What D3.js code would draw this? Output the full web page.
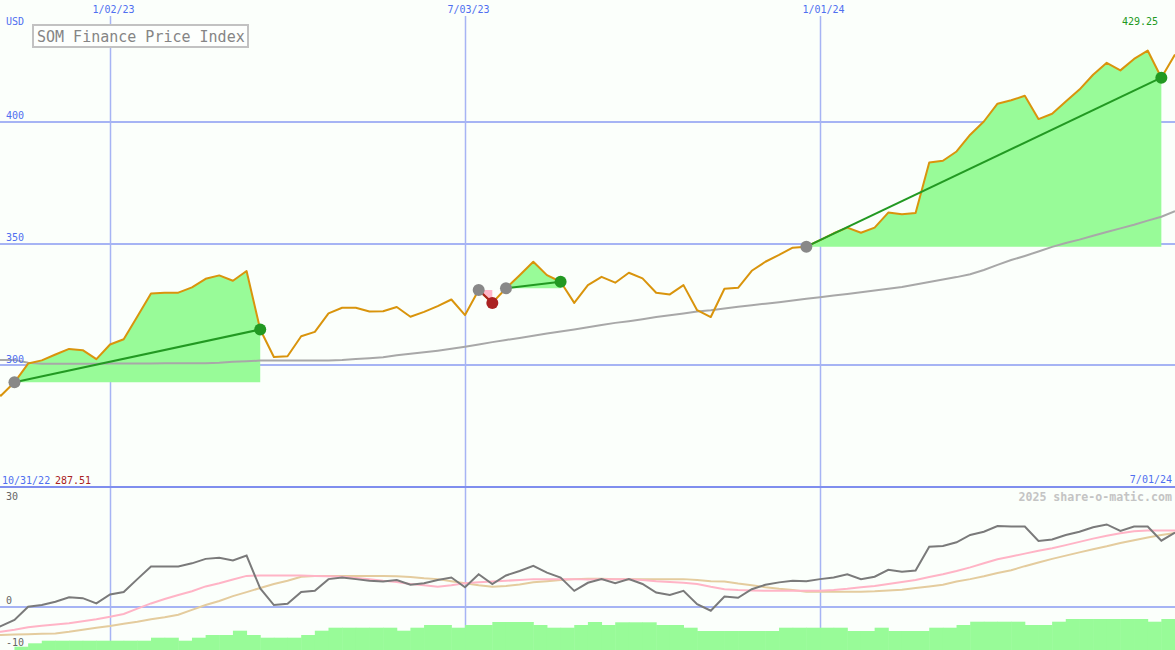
<!DOCTYPE html>
<html><head><meta charset="utf-8">
<script src="https://cdn.jsdelivr.net/npm/d3@7"></script>
<style>
body{margin:0;background:#fbfffb}
svg{display:block}
text{font-family:"DejaVu Sans Mono",monospace}
</style>
</head><body>
<svg id="c" width="1175" height="650"></svg>
<script>
// ---------- DATA ----------
const firstDate = "2022-10-31";           // weekly closes, Mondays
const price = [289.4, 287.51, 293.0, 300.7, 302.0, 304.4, 306.7, 306.2, 302.5, 308.5, 310.7, 320.0,
  329.5, 329.8, 329.8, 332.0, 335.5, 336.9, 334.7, 338.7, 314.7, 303.4, 303.7, 311.9, 313.7, 321.3,
  323.6, 323.6, 322.1, 322.2, 323.9, 319.9, 321.9, 324.3, 327.0, 320.6, 330.9, 325.6, 331.6, 337.0,
  342.5, 337.0, 334.3, 325.6, 332.9, 336.3, 333.9, 338.0, 335.7, 329.8, 329.1, 332.9, 322.6, 319.8,
  331.4, 331.8, 338.8, 342.5, 345.3, 348.3, 348.7, 351.4, 354.2, 356.5, 354.4, 356.5, 362.7, 362.0,
  362.5, 383.3, 384.0, 387.8, 394.7, 400.1, 407.4, 408.8, 410.7, 401.1, 403.3, 408.3, 413.2, 419.3,
  424.2, 421.1, 425.8, 429.25, 418.1, 427.6];
const movingAvg = [301.6, 302.2, 302.2, 301.0, 300.6, 300.6, 300.6, 300.6, 300.6, 300.7, 300.7, 300.7,
  300.7, 300.8, 300.8, 300.8, 300.8, 301.0, 301.4, 301.6, 301.9, 301.9, 301.9, 301.9, 301.9, 302.0,
  302.2, 302.6, 302.9, 303.3, 304.1, 304.7, 305.3, 306.0, 306.8, 307.6, 308.5, 309.5, 310.4, 311.2,
  312.1, 313.0, 313.9, 314.7, 315.6, 316.5, 317.4, 318.1, 318.9, 319.8, 320.5, 321.3, 322.1, 322.6,
  323.3, 324.0, 324.6, 325.3, 325.9, 326.6, 327.3, 327.9, 328.6, 329.3, 330.0, 330.7, 331.4, 332.1,
  333.2, 334.2, 335.2, 336.2, 337.4, 339.1, 341.2, 343.2, 344.9, 346.7, 348.6, 350.2, 351.6, 353.2,
  354.7, 356.2, 357.7, 359.4, 361.0, 363.3];
const oscillator = [-6.0, -4.6, -3.1, 0.2, 0.6, 1.4, 2.5, 2.3, 1.0, 3.2, 3.8, 7.0, 10.1, 10.1, 10.1,
  10.9, 12.0, 12.3, 11.6, 12.8, 4.7, 0.6, 0.9, 3.8, 4.1, 7.0, 7.4, 7.0, 6.6, 6.4, 6.8, 5.6, 6.0, 6.8,
  7.4, 5.0, 8.2, 5.8, 7.9, 9.0, 10.3, 8.6, 7.4, 4.1, 6.1, 7.0, 6.0, 7.0, 5.8, 3.7, 3.1, 4.1, 0.8, -0.8,
  2.7, 2.4, 4.5, 5.6, 6.2, 6.6, 6.5, 7.0, 7.4, 8.2, 7.0, 7.6, 9.3, 8.8, 9.1, 15.0, 15.2, 16.1, 17.9,
  18.7, 20.1, 20.0, 20.0, 16.4, 16.8, 17.9, 18.7, 19.8, 20.5, 18.9, 20.0, 20.0, 16.5, 18.5];
const signalFast = [-6.3, -6.0, -5.5, -4.9, -4.5, -4.2, -3.9, -3.4, -2.9, -2.3, -1.6, -0.3, 1.0, 2.1,
  3.1, 4.0, 5.2, 6.0, 6.9, 7.8, 7.9, 7.9, 7.9, 7.9, 7.8, 7.7, 7.6, 7.3, 7.0, 6.6, 6.3, 5.8, 5.5, 5.1,
  5.5, 6.0, 6.2, 6.4, 6.6, 6.8, 7.0, 7.0, 7.0, 7.0, 6.9, 7.0, 7.0, 7.0, 6.8, 6.5, 6.3, 6.1, 5.8, 5.1,
  4.5, 4.3, 4.2, 4.1, 4.1, 4.1, 4.1, 4.1, 4.3, 4.6, 5.0, 5.3, 5.8, 6.3, 6.8, 7.5, 8.2, 9.0, 9.9, 10.9,
  11.9, 12.6, 13.3, 14.0, 14.6, 15.4, 16.2, 17.0, 17.7, 18.3, 18.8, 19.0, 19.0, 19.0];
const signalSlow = [-6.9, -6.8, -6.7, -6.6, -6.5, -6.4, -6.0, -5.5, -5.0, -4.6, -4.0, -3.5, -2.9, -2.4,
  -1.8, -0.6, 0.6, 1.6, 2.8, 3.8, 4.8, 5.8, 6.6, 7.6, 7.8, 7.8, 7.8, 7.8, 7.8, 7.8, 7.7, 7.5, 7.2, 7.0,
  6.5, 6.0, 5.5, 5.1, 5.3, 5.7, 6.2, 6.5, 6.8, 7.0, 7.1, 7.1, 7.0, 7.0, 7.0, 7.0, 7.0, 7.0, 6.8, 6.5,
  6.4, 5.9, 5.5, 5.0, 4.6, 4.3, 3.9, 3.9, 3.9, 3.9, 3.9, 4.0, 4.2, 4.4, 4.8, 5.2, 5.6, 6.4, 7.0, 7.7,
  8.5, 9.2, 10.2, 11.1, 12.0, 12.8, 13.6, 14.4, 15.1, 15.9, 16.6, 17.3, 17.9, 18.4];
const volume = [0, 0, 3.3, 6.7, 9.3, 9.3, 9.3, 9.3, 9.3, 9.3, 9.3, 9.3, 12.3, 12.3, 9.3, 12.3, 15, 15,
  19.3, 15, 12.3, 12.3, 12.3, 15, 19.3, 22.3, 22.3, 22.3, 22.3, 22.3, 19.3, 22.3, 25, 25, 22.3, 25, 25,
  28, 28, 28, 25, 22.3, 22.3, 25, 28, 25, 27.7, 27.7, 27.7, 25, 25, 22.3, 19, 19, 19, 19, 19, 19, 22.3,
  22.3, 22.3, 22.3, 22.3, 19, 19, 22.3, 19, 19, 19, 22.3, 22.3, 25, 28.3, 28.3, 28.3, 28.3, 25, 25,
  28.3, 31, 31, 31, 31, 31, 31, 28.3, 31, 31];
const tickDates = ["2023-01-02", "2023-07-03", "2024-01-01"];
const priceTicks = [300, 350, 400];
const segStart = ["2022-11-14", "2023-07-10", "2023-07-24", "2023-12-25"];
const segEnd   = ["2023-03-20", "2023-07-17", "2023-08-21", "2024-06-24"];
const title = "SOM Finance Price Index";
const currency = "USD";
const credit = "2025 share-o-matic.com";
const oscLabels = [30, 0, -10];

// ---------- SETUP ----------
const W = 1175, H = 650;
const parse = d3.utcParse("%Y-%m-%d");
const fmt = d3.utcFormat("%-m/%d/%y");
const t0 = parse(firstDate);
const dates = price.map((_, i) => d3.utcDay.offset(t0, 7 * i));
const x = d3.scaleUtc().domain([new Date(Date.UTC(2022, 10, 6, 14)), dates[dates.length - 1]]).range([0, W]);
const y = d3.scaleLinear().domain([250, 450]).range([487, 0]);
const y2 = d3.scaleLinear().domain([-10.5, 29.5]).range([650, 488]);
const vh = d3.scaleLinear().domain([0, 40]).range([0, 40]);
const idx = s => dates.findIndex(d => +d === +parse(s));

const C = {
  grid: "#a6b4f4", sep: "#7f8eee", label: "#4f6ff0",
  price: "#d9940c", avg: "#a8a8a8", fill: "#98fb98", pink: "#ffb6c9",
  up: "#229922", down: "#aa2222", gray: "#888888",
  osc: "#7a7a7a", fast: "#ffb4c6", slow: "#e4cc9e"
};

const svg = d3.select("#c");
svg.append("rect").attr("width", W).attr("height", H).attr("fill", "#fbfffb");
const defs = svg.append("defs");
defs.append("clipPath").attr("id", "cm").append("rect").attr("x", 0).attr("y", 0).attr("width", W).attr("height", 487);
defs.append("clipPath").attr("id", "cl").append("rect").attr("x", 0).attr("y", 488).attr("width", W).attr("height", 162);

// horizontal gridlines
svg.selectAll(".hg").data(priceTicks).join("line")
  .attr("x1", 0).attr("x2", W).attr("y1", d => Math.round(y(d))).attr("y2", d => Math.round(y(d)))
  .attr("stroke", C.grid).attr("stroke-width", 2);
svg.append("line").attr("x1", 0).attr("x2", W).attr("y1", Math.round(y2(0))).attr("y2", Math.round(y2(0)))
  .attr("stroke", C.grid).attr("stroke-width", 2);

// vertical gridlines
svg.selectAll(".vg").data(tickDates).join("line")
  .attr("x1", d => Math.round(x(parse(d))) + 0.5).attr("x2", d => Math.round(x(parse(d))) + 0.5)
  .attr("y1", 16).attr("y2", H).attr("stroke", C.grid).attr("stroke-width", 1.5);

// volume bars
const low = svg.append("g").attr("clip-path", "url(#cl)");
low.selectAll("rect").data(volume.map((v, i) => ({ v, i })).filter(d => d.v > 0)).join("rect")
  .attr("x", d => x(dates[d.i]))
  .attr("width", d => (d.i + 1 < dates.length ? x(dates[d.i + 1]) : x(d3.utcDay.offset(dates[d.i], 7))) - x(dates[d.i]) + 0.5)
  .attr("y", d => H - vh(d.v)).attr("height", d => vh(d.v))
  .attr("fill", C.fill);

// main panel
const main = svg.append("g").attr("clip-path", "url(#cm)");
const segs = segStart.map((s, k) => {
  const a = idx(s), b = idx(segEnd[k]);
  return { a, b, up: price[b] >= price[a] };
});
segs.forEach(s => {
  const pts = d3.range(s.a, s.b + 1);
  const area = d3.area().x(i => x(dates[i])).y0(y(price[s.a])).y1(i => y(price[i]));
  main.append("path").attr("d", area(pts)).attr("fill", s.up ? C.fill : C.pink);
});
const line = d3.line().x((d, i) => x(dates[i])).y(d => y(d));
main.append("path").attr("d", line(movingAvg)).attr("fill", "none").attr("stroke", C.avg).attr("stroke-width", 2);
main.append("path").attr("d", line(price)).attr("fill", "none").attr("stroke", C.price).attr("stroke-width", 2).attr("stroke-linejoin", "round");
segs.forEach(s => {
  main.append("line")
    .attr("x1", x(dates[s.a])).attr("y1", y(price[s.a]))
    .attr("x2", x(dates[s.b])).attr("y2", y(price[s.b]))
    .attr("stroke", s.up ? C.up : C.down).attr("stroke-width", 2);
});
segs.forEach(s => {
  main.append("circle").attr("cx", x(dates[s.a])).attr("cy", y(price[s.a])).attr("r", 6).attr("fill", C.gray);
  main.append("circle").attr("cx", x(dates[s.b])).attr("cy", y(price[s.b])).attr("r", 6).attr("fill", s.up ? C.up : C.down);
});

// lower panel lines
const line2 = d3.line().x((d, i) => x(dates[i])).y(d => y2(d));
[[signalSlow, C.slow], [signalFast, C.fast], [oscillator, C.osc]].forEach(([arr, col]) => {
  low.append("path").attr("d", line2(arr)).attr("fill", "none").attr("stroke", col).attr("stroke-width", 2);
});

// separator (250 level)
svg.append("line").attr("x1", 0).attr("x2", W).attr("y1", Math.round(y(250))).attr("y2", Math.round(y(250)))
  .attr("stroke", C.sep).attr("stroke-width", 2);

// ---------- TEXT ----------
const txt = (s, xx, yy, col, anchor, size, weight) => svg.append("text").text(s)
  .attr("x", xx).attr("y", yy).attr("fill", col).attr("text-anchor", anchor || "start")
  .attr("font-size", size || 10).attr("font-weight", weight || "normal");

tickDates.forEach(d => txt(fmt(parse(d)), x(parse(d)) + 3.5, 13, C.label, "middle"));
priceTicks.forEach(v => txt(String(v), 6, y(v) - 2.5, C.label));
txt(currency, 6, 25, C.label);

const maxI = d3.maxIndex(price), minI = d3.minIndex(price);
txt(d3.format(".2f")(price[maxI]), 1158, 25, C.up, "end");
txt(fmt(dates[0]), 2, 484, C.label);
txt(d3.format(".2f")(price[minI]), 55, 484, C.down);
txt(fmt(dates[dates.length - 1]), 1172, 483, C.label, "end");
txt(credit, 1172, 500.5, "#c4c4c4", "end", 11.6, "bold");

txt(String(oscLabels[0]), 6, 500, "#666");
txt(String(oscLabels[1]), 6, y2(0) - 3, "#666");
txt(String(oscLabels[2]), 6, 646, "#666");

// title box
svg.append("rect").attr("x", 33).attr("y", 25).attr("width", 215).attr("height", 22)
  .attr("fill", "#fdfffd").attr("stroke", "#c2c2c2").attr("stroke-width", 2);
txt(title, 37, 42, "#858585", "start", 15);
</script>
</body></html>
